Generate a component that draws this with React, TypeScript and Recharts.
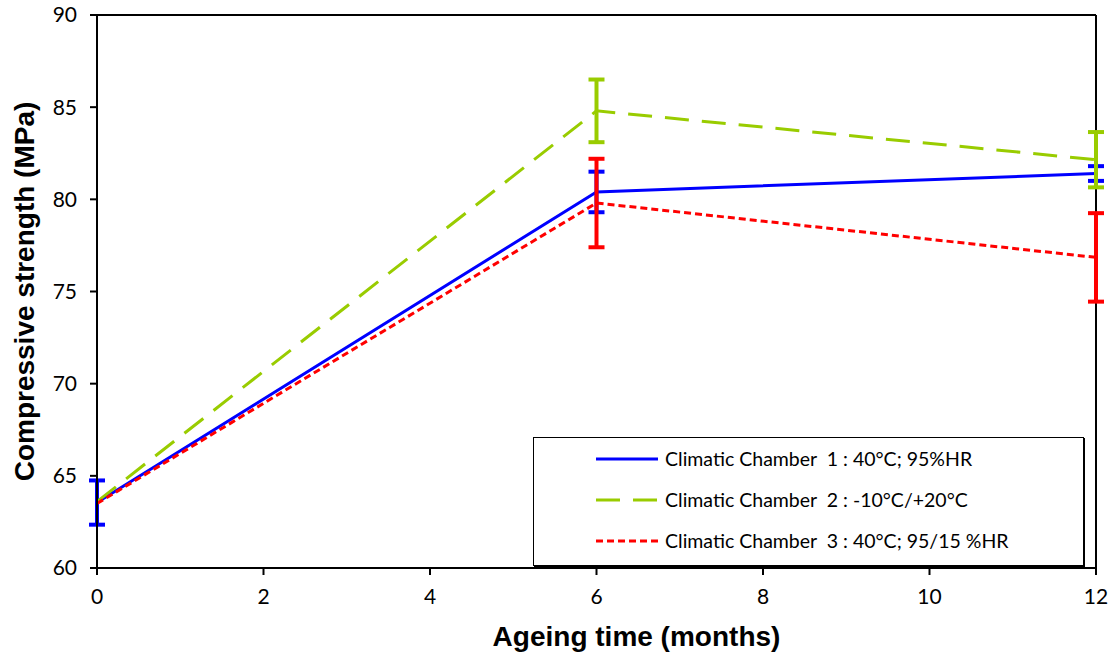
import React from 'react'
import {
  LineChart,
  Line,
  XAxis,
  YAxis,
  ErrorBar,
  ReferenceLine,
} from 'recharts'

const months = [0, 6, 12]
const chamber1 = [63.55, 80.4, 81.4]
const chamber1Err = [1.2, 1.1, 0.4]
const chamber2 = [63.6, 84.8, 82.15]
const chamber2Err = [0, 1.7, 1.5]
const chamber3 = [63.5, 79.8, 76.85]
const chamber3Err = [0, 2.4, 2.4]

const xTicks = [0, 2, 4, 6, 8, 10, 12]
const yTicks = [60, 65, 70, 75, 80, 85, 90]

const series = [
  { key: 'c1', name: 'Climatic Chamber  1 : 40°C; 95%HR', color: '#0000FF', dash: undefined },
  { key: 'c2', name: 'Climatic Chamber  2 : -10°C/+20°C', color: '#99CC00', dash: '24 13' },
  { key: 'c3', name: 'Climatic Chamber  3 : 40°C; 95/15 %HR', color: '#FF0000', dash: '7 4' },
]

const data = months.map((m, i) => ({
  month: m,
  c1: chamber1[i],
  c1Err: chamber1Err[i],
  c2: chamber2[i],
  c2Err: chamber2Err[i],
  c3: chamber3[i],
  c3Err: chamber3Err[i],
}))

const tickFont = { fontFamily: 'Lato, sans-serif', fontSize: 21, fill: '#000' }
const titleFont = { fontFamily: '"Liberation Sans", Arial, sans-serif', fontSize: 28, fontWeight: 'bold', fill: '#000' }

// legend box sits on top of the plot, bottom-right
const LegendBox = () => (
  <div
    style={{
      position: 'absolute',
      left: 533,
      top: 437,
      width: 551,
      height: 129,
      border: '1px solid #000',
      boxShadow: '1px 1px 0 #000',
      background: '#fff',
      boxSizing: 'border-box',
      paddingTop: 0,
    }}
  >
    {series.map((s) => (
      <div key={s.key} style={{ display: 'flex', alignItems: 'center', height: 41, marginLeft: 62 }}>
        <svg width={62} height={6} style={{ marginRight: 7 }}>
          <line x1={0} y1={3} x2={62} y2={3} stroke={s.color} strokeWidth={3} strokeDasharray={s.dash} />
        </svg>
        <span style={{ fontFamily: 'Lato, sans-serif', fontSize: 19.5, color: '#000', whiteSpace: 'pre' }}>{s.name}</span>
      </div>
    ))}
  </div>
)

export default function App() {
  return (
    <div style={{ position: 'absolute', left: 0, top: 0, width: 1110, height: 652, background: '#fff' }}>
      <LineChart width={1110} height={652} data={data} margin={{ top: 15, right: 14, bottom: 0, left: 0 }}>
        <XAxis
          dataKey="month"
          type="number"
          domain={[0, 12]}
          ticks={xTicks}
          tick={tickFont}
          tickLine={{ stroke: '#000', strokeWidth: 2 }}
          tickSize={7}
          tickMargin={14}
          axisLine={{ stroke: '#000', strokeWidth: 2 }}
          height={84}
          label={{ value: 'Ageing time (months)', position: 'insideBottom', offset: 6, dx: 40, style: titleFont }}
        />
        <YAxis
          type="number"
          domain={[60, 90]}
          ticks={yTicks}
          tick={tickFont}
          tickLine={{ stroke: '#000', strokeWidth: 2 }}
          tickSize={7}
          tickMargin={13}
          axisLine={{ stroke: '#000', strokeWidth: 2 }}
          width={97}
          label={{ value: 'Compressive strength (MPa)', angle: -90, position: 'insideLeft', offset: 24, style: { ...titleFont, textAnchor: 'middle' } }}
        />
        <ReferenceLine y={90} stroke="#000" strokeWidth={2} />
        <ReferenceLine x={12} stroke="#000" strokeWidth={2} />
        {series.map((s) => (
          <Line
            key={s.key}
            dataKey={s.key}
            name={s.name}
            stroke={s.color}
            strokeWidth={3}
            strokeDasharray={s.dash}
            dot={false}
            activeDot={false}
            isAnimationActive={false}
          >
            <ErrorBar dataKey={`${s.key}Err`} width={8} stroke={s.color} strokeWidth={4} direction="y" />
          </Line>
        ))}
      </LineChart>
      <LegendBox />
    </div>
  )
}
